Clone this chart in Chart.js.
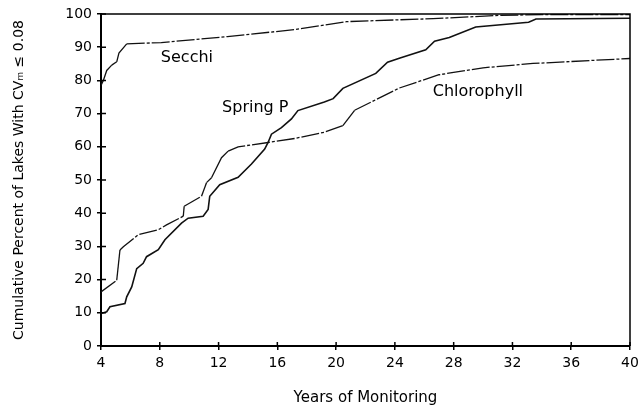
<!DOCTYPE html>
<html>
<head>
<meta charset="utf-8">
<script src="https://cdn.jsdelivr.net/npm/chart.js@4.4.1/dist/chart.umd.min.js"></script>
<style>
  html, body { margin: 0; padding: 0; background: #fff; }
  #wrap { width: 644px; height: 416px; }
</style>
</head>
<body>
<div id="wrap"><canvas id="chart"></canvas></div>
<script>
// values (years of monitoring vs cumulative %)
const secchiYears = [4, 4.16, 4.39, 4.73, 5.07, 5.22, 5.75, 8.1, 12.6, 17.2, 20.7, 26.6, 31.1, 34, 40];
const secchiPct   = [78.5, 80, 83, 84.6, 85.6, 88.2, 91, 91.4, 93.2, 95.3, 97.7, 98.6, 99.6, 99.8, 99.8];

const springYears = [4, 4.39, 4.61, 5.63, 5.75, 6.09, 6.43, 6.87, 7.1, 7.9, 8.35, 9.48, 9.93, 10.95, 11.29, 11.4,
                     12.08, 13.33, 14.24, 15.14, 15.37, 15.6, 16.28, 16.96, 17.4, 19.2, 19.8, 20.46, 22.7, 23.5,
                     24.3, 26.1, 26.7, 27.7, 29.5, 33.1, 33.6, 40];
const springPct   = [9.8, 10.3, 11.8, 12.8, 14.8, 17.8, 23.3, 24.9, 26.9, 29.0, 32.0, 37.0, 38.5, 39.1, 41.1, 45.1,
                     48.6, 50.8, 54.8, 59.3, 61.3, 63.8, 65.8, 68.4, 70.9, 73.5, 74.5, 77.6, 82.1, 85.5,
                     86.7, 89.2, 91.8, 92.9, 96.1, 97.5, 98.5, 98.7];

const chloroYears = [4, 5.07, 5.29, 5.52, 6.53, 7.9, 8.46, 9.6, 9.66, 10.84, 11.18, 11.52, 12.2, 12.65, 13.33,
                     15.37, 17.18, 19.2, 20.46, 21.26, 24.3, 27.0, 30.0, 33.4, 40];
const chloroPct   = [16.3, 19.8, 28.9, 29.9, 33.5, 35.0, 36.5, 39.1, 42.1, 45.1, 49.2, 50.7, 56.7, 58.7, 60.0,
                     61.3, 62.5, 64.4, 66.4, 71.0, 77.7, 81.7, 83.8, 85.1, 86.6];

// curve names written inside the plot, placed in data units
const curveLabels = ['Secchi', 'Spring P', 'Chlorophyll'];
const labelYears  = [9.85, 14.5, 29.65];
const labelPct    = [86.9, 71.6, 76.6];

const FONT = '"DejaVu Sans", Verdana, sans-serif';

function points(xs, ys) {
  return xs.map((x, i) => ({ x: x, y: ys[i] }));
}

// the scan shows the thin curves broken up only where they run flat
const flatDash = ctx => {
  const dx = Math.abs(ctx.p1.x - ctx.p0.x), dy = Math.abs(ctx.p1.y - ctx.p0.y);
  return dy > dx ? [] : [18, 2, 3, 2];
};

// closes the box (top + right) and draws the inner half of each "+" tick, plus curve names
const frameAndTicks = {
  id: 'frameAndTicks',
  afterDatasetsDraw(chart) {
    const { ctx, chartArea: a, scales } = chart;
    ctx.save();
    ctx.strokeStyle = '#000';
    ctx.lineWidth = 1.5;
    ctx.beginPath();
    ctx.moveTo(a.left, a.top);
    ctx.lineTo(a.right, a.top);
    ctx.lineTo(a.right, a.bottom);
    ctx.stroke();

    ctx.beginPath();
    scales.x.ticks.forEach(t => {
      const px = scales.x.getPixelForValue(t.value);
      ctx.moveTo(px, a.bottom);
      ctx.lineTo(px, a.bottom - 4);
    });
    scales.y.ticks.forEach(t => {
      const py = scales.y.getPixelForValue(t.value);
      ctx.moveTo(a.left, py);
      ctx.lineTo(a.left + 5, py);
    });
    ctx.stroke();

    ctx.fillStyle = '#000';
    ctx.font = '16px ' + FONT;
    ctx.textAlign = 'center';
    ctx.textBaseline = 'middle';
    curveLabels.forEach((txt, i) => {
      ctx.fillText(txt, scales.x.getPixelForValue(labelYears[i]), scales.y.getPixelForValue(labelPct[i]));
    });
    ctx.restore();
  }
};

new Chart(document.getElementById('chart'), {
  type: 'line',
  data: {
    datasets: [
      { label: 'Secchi', data: points(secchiYears, secchiPct), borderColor: '#111', borderWidth: 1.3, segment: { borderDash: flatDash } },
      { label: 'Spring P', data: points(springYears, springPct), borderColor: '#111', borderWidth: 1.6 },
      { label: 'Chlorophyll', data: points(chloroYears, chloroPct), borderColor: '#111', borderWidth: 1.3, segment: { borderDash: flatDash } }
    ]
  },
  options: {
    responsive: true,
    maintainAspectRatio: false,
    animation: false,
    elements: { point: { radius: 0 }, line: { tension: 0 } },
    layout: { padding: { top: 14, right: 14, left: 0, bottom: 0 } },
    plugins: { legend: { display: false }, tooltip: { enabled: false } },
    scales: {
      x: {
        type: 'linear',
        min: 4,
        max: 40,
        afterFit: s => { s.height = 70; },
        ticks: { stepSize: 4, color: '#000', padding: 5, maxRotation: 0, font: { family: FONT, size: 14 } },
        grid: { drawOnChartArea: false, drawTicks: true, tickLength: 4, color: '#000', lineWidth: 1.5 },
        border: { display: true, color: '#000', width: 2 },
        title: { display: true, text: 'Years of Monitoring', color: '#000', font: { family: FONT, size: 15 }, padding: { top: 0, bottom: 9 } }
      },
      y: {
        min: 0,
        max: 100,
        afterFit: s => { s.width = 101; },
        ticks: { stepSize: 10, color: '#000', padding: 5, font: { family: FONT, size: 14 } },
        grid: { drawOnChartArea: false, drawTicks: true, tickLength: 4, color: '#000', lineWidth: 1.5 },
        border: { display: true, color: '#000', width: 2 },
        title: { display: true, text: 'Cumulative Percent of Lakes With CVₘ ≤ 0.08', color: '#000', font: { family: FONT, size: 14 }, padding: { top: 11, bottom: 0 } }
      }
    }
  },
  plugins: [frameAndTicks]
});
</script>
</body>
</html>
